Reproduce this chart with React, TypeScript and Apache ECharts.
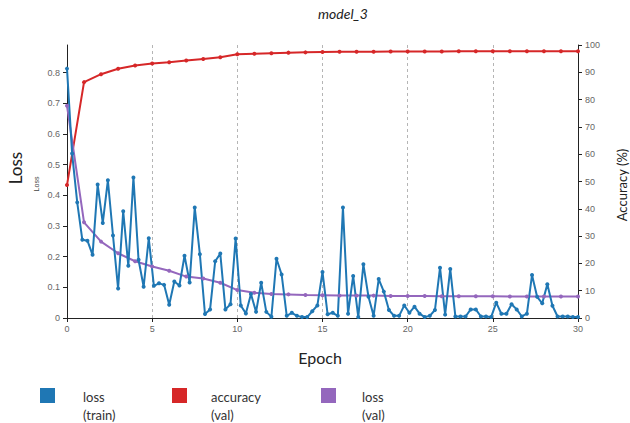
import React, { useEffect, useRef } from "react";
import * as echarts from "echarts";

// Training loss logged every 0.3 epoch (101 points, epochs 0 … 30)
const trainStep = 0.3;
const trainLoss = [
  0.813, 0.536, 0.377, 0.255, 0.252, 0.206, 0.435, 0.31, 0.449, 0.269,
  0.096, 0.348, 0.17, 0.458, 0.19, 0.102, 0.26, 0.105, 0.113, 0.108,
  0.043, 0.119, 0.106, 0.203, 0.116, 0.36, 0.208, 0.013, 0.028, 0.185,
  0.21, 0.028, 0.045, 0.259, 0.041, 0.015, 0.078, 0.02, 0.115, 0.02,
  0.004, 0.193, 0.142, 0.007, 0.017, 0.007, 0.003, 0.003, 0.022, 0.041,
  0.15, 0.012, 0.017, 0.007, 0.36, 0.014, 0.137, 0.003, 0.175, 0.069,
  0.007, 0.127, 0.086, 0.026, 0.007, 0.007, 0.041, 0.017, 0.037, 0.014,
  0.003, 0.007, 0.026, 0.164, 0.011, 0.16, 0.005, 0.005, 0.005, 0.028,
  0.028, 0.005, 0.005, 0.003, 0.05, 0.014, 0.014, 0.045, 0.028, 0.005,
  0.014, 0.14, 0.069, 0.048, 0.11, 0.04, 0.005, 0.005, 0.005, 0.003,
  0.003,
];

// Validation metrics, one per epoch (0 … 30)
const valEpochs = [
  0, 1, 2, 3, 4, 5, 6, 7, 8, 9, 10, 11, 12, 13, 14, 15, 16, 17, 18, 19, 20,
  21, 22, 23, 24, 25, 26, 27, 28, 29, 30,
];
const valAccuracy = [
  48.7, 86.4, 89.3, 91.3, 92.5, 93.2, 93.7, 94.3, 94.9, 95.5, 96.6, 96.8,
  97.0, 97.2, 97.3, 97.4, 97.5, 97.5, 97.5, 97.6, 97.6, 97.6, 97.6, 97.7,
  97.7, 97.7, 97.7, 97.7, 97.7, 97.7, 97.7,
];
const valLoss = [
  0.692, 0.312, 0.249, 0.211, 0.185, 0.168, 0.154, 0.135, 0.129, 0.115,
  0.091, 0.082, 0.078, 0.077, 0.075, 0.074, 0.073, 0.073, 0.073, 0.072,
  0.072, 0.072, 0.071, 0.071, 0.071, 0.071, 0.07, 0.07, 0.07, 0.07, 0.07,
];

const xTicks = { min: 0, max: 30, interval: 5 };
const lossAxis = { min: 0, max: 0.89, interval: 0.1 };
const accAxis = { min: 0, max: 100, interval: 10 };

const BLUE = "#1f77b4";
const RED = "#d62728";
const PURPLE = "#9467bd";
const LABEL_FONT = "Liberation Sans";
const TITLE_FONT = "Lato";

export default function App() {
  const ref = useRef<HTMLDivElement>(null);

  useEffect(() => {
    if (!ref.current) return;
    const chart = echarts.init(ref.current, undefined, { renderer: "svg" });

    const trainData = trainLoss.map((v, i) => [
      Math.round(i * trainStep * 1000) / 1000,
      v,
    ]);
    const accData = valEpochs.map((e, i) => [e, valAccuracy[i]]);
    const vLossData = valEpochs.map((e, i) => [e, valLoss[i]]);

    const axisCommon = {
      axisLine: { show: true, lineStyle: { color: "#222", width: 1 } },
      axisTick: { show: true, length: 4, lineStyle: { color: "#222" } },
      axisLabel: { color: "#666", fontSize: 9, fontFamily: LABEL_FONT },
    };

    const legendItems = [
      { color: BLUE, x: 40, tx: 83, l1: "loss", l2: "(train)" },
      { color: RED, x: 172, tx: 211, l1: "accuracy", l2: "(val)" },
      { color: PURPLE, x: 321, tx: 362, l1: "loss", l2: "(val)" },
    ];

    const graphic: any[] = [
      {
        type: "text",
        x: 343,
        y: 13,
        style: {
          text: "model_3",
          font: `italic 14px ${TITLE_FONT}`,
          fill: "#222",
          textAlign: "center",
          textVerticalAlign: "middle",
        },
      },
      {
        type: "text",
        x: 15,
        y: 168,
        rotation: Math.PI / 2,
        style: {
          text: "Loss",
          font: `17px ${TITLE_FONT}`,
          fill: "#222",
          textAlign: "center",
          textVerticalAlign: "middle",
        },
      },
      {
        type: "text",
        x: 36,
        y: 184,
        rotation: Math.PI / 2,
        style: {
          text: "Loss",
          font: `7px ${LABEL_FONT}`,
          fill: "#444",
          textAlign: "center",
          textVerticalAlign: "middle",
        },
      },
      {
        type: "text",
        x: 622,
        y: 185,
        rotation: Math.PI / 2,
        style: {
          text: "Accuracy (%)",
          font: `13px ${TITLE_FONT}`,
          fill: "#222",
          textAlign: "center",
          textVerticalAlign: "middle",
        },
      },
      {
        type: "text",
        x: 320,
        y: 357,
        style: {
          text: "Epoch",
          font: `16px ${TITLE_FONT}`,
          fill: "#222",
          textAlign: "center",
          textVerticalAlign: "middle",
        },
      },
    ];
    legendItems.forEach((it) => {
      graphic.push({
        type: "rect",
        shape: { x: it.x, y: 388, width: 15, height: 15 },
        style: { fill: it.color },
      });
      graphic.push({
        type: "text",
        x: it.tx,
        y: 397,
        style: {
          text: it.l1,
          font: `13px ${TITLE_FONT}`,
          fill: "#333",
          textAlign: "left",
          textVerticalAlign: "middle",
        },
      });
      graphic.push({
        type: "text",
        x: it.tx,
        y: 415,
        style: {
          text: it.l2,
          font: `13px ${TITLE_FONT}`,
          fill: "#333",
          textAlign: "left",
          textVerticalAlign: "middle",
        },
      });
    });

    chart.setOption({
      animation: false,
      backgroundColor: "#fff",
      grid: { left: 67, right: 52, top: 45, bottom: 105, containLabel: false },
      xAxis: {
        type: "value",
        ...xTicks,
        ...axisCommon,
        axisLabel: { ...axisCommon.axisLabel, margin: 6 },
        splitLine: {
          show: true,
          lineStyle: { color: "#b5b5b5", type: [3, 3], width: 1 },
        },
      },
      yAxis: [
        {
          type: "value",
          position: "left",
          ...lossAxis,
          ...axisCommon,
          axisLabel: {
            ...axisCommon.axisLabel,
            showMaxLabel: false,
            margin: 7,
            formatter: (v: number) => String(Math.round(v * 10) / 10),
          },
          splitLine: { show: false },
        },
        {
          type: "value",
          position: "right",
          ...accAxis,
          ...axisCommon,
          axisLabel: { ...axisCommon.axisLabel, margin: 7 },
          splitLine: { show: false },
        },
      ],
      series: [
        {
          name: "accuracy (val)",
          type: "line",
          yAxisIndex: 1,
          data: accData,
          symbol: "circle",
          symbolSize: 4,
          lineStyle: { color: RED, width: 2 },
          itemStyle: { color: RED },
        },
        {
          name: "loss (val)",
          type: "line",
          yAxisIndex: 0,
          data: vLossData,
          symbol: "circle",
          symbolSize: 4,
          lineStyle: { color: PURPLE, width: 2 },
          itemStyle: { color: PURPLE },
        },
        {
          name: "loss (train)",
          type: "line",
          yAxisIndex: 0,
          data: trainData,
          symbol: "circle",
          symbolSize: 4,
          lineStyle: { color: BLUE, width: 2 },
          itemStyle: { color: BLUE },
        },
      ],
      graphic,
    });

    return () => chart.dispose();
  }, []);

  return (
    <div
      ref={ref}
      style={{ position: "fixed", left: 0, top: 0, width: 630, height: 423 }}
    />
  );
}
